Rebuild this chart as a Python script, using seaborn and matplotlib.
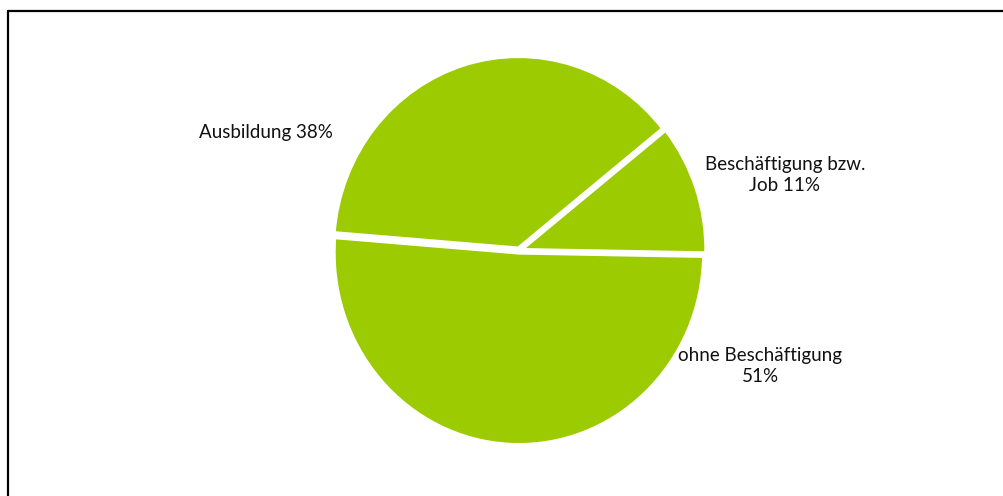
import matplotlib
matplotlib.use("Agg")
import matplotlib.pyplot as plt
import seaborn as sns

shares = [11, 38, 51]
label_texts = ["Beschäftigung bzw.\nJob 11%", "Ausbildung 38%", "ohne Beschäftigung\n51%"]

sns.set_theme(style="white")
plt.rcParams["font.family"] = ["Lato", "DejaVu Sans"]

W, H = 1004, 496
fig = plt.figure(figsize=(W / 100, H / 100), dpi=100)
fig.patch.set_facecolor("white")

# pie axes: centre (519, 250) px from top-left, slightly taller than wide
rx_px, ry_px = 185, 192
span = 1.3
cx, cy = 519, 250.5
w_px, h_px = 2 * span * rx_px, 2 * span * ry_px
ax = fig.add_axes([(cx - w_px / 2) / W, (H - cy - h_px / 2) / H, w_px / W, h_px / H])

green = "#9BCB00"
ax.pie(shares, startangle=-1, counterclock=True,
       colors=[green] * len(shares),
       explode=[0.012, 0.012, 0.012],
       wedgeprops=dict(edgecolor="white", linewidth=2.6))
ax.set_xlim(-span, span)
ax.set_ylim(-span, span)
ax.set_aspect("auto")
ax.axis("off")

# slice labels
label_pos = [(785, 175), (266, 133), (760, 366)]
for txt, (x, y) in zip(label_texts, label_pos):
    fig.text(x / W, 1 - y / H, txt, ha="center", va="center",
             fontsize=13.5, color="#111111", linespacing=1.3)

# frame lines (top and left) around the chart area
fig.add_artist(plt.Line2D([8.5 / W, 1.0], [1 - 10.5 / H, 1 - 10.5 / H],
                          transform=fig.transFigure, color="black", lw=1.6))
fig.add_artist(plt.Line2D([8.5 / W, 8.5 / W], [0.0, 1 - 10.5 / H],
                          transform=fig.transFigure, color="black", lw=1.6))

fig.savefig("out.png", dpi=100, facecolor="white")
